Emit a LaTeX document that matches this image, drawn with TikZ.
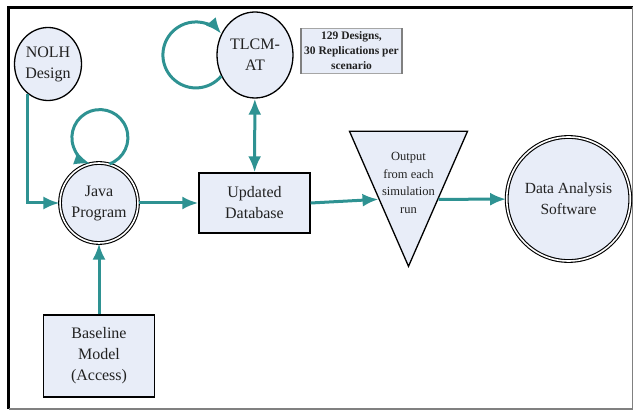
\documentclass[tikz,border=0pt]{standalone}
\usepackage{fontspec}
\setmainfont{Liberation Serif}
\usetikzlibrary{arrows.meta, positioning, shapes.geometric}

\definecolor{flowteal}{RGB}{46,146,146}
\definecolor{boxfill}{RGB}{232,237,248}
\definecolor{inkgray}{RGB}{34,34,34}

\begin{document}
\begin{tikzpicture}[x=1pt, y=1pt,
    every node/.style={text=inkgray, font=\fontsize{16}{21}\selectfont, align=center, inner sep=0pt},
    state/.style={draw, ellipse, fill=boxfill, line width=1.3pt},
    dstate/.style={state, double, double distance=1.6pt, line width=1.1pt},
    store/.style={draw, rectangle, fill=boxfill, line width=1.3pt},
    flow/.style={draw=flowteal, line width=3pt, arrows={-Latex[length=16pt, width=13pt]}}]
    \useasboundingbox (0,0) rectangle (634,410);

    % Frame
    \draw[line width=3pt] (8.5,1) -- (8.5,402.5) -- (633,402.5);
    \draw[gray, line width=1.2pt] (8.5,1) -- (632.5,1) -- (632.5,402.5);

    % Nodes
    \node[state, minimum width=67pt, minimum height=73pt] (nolh) at (48,346) {NOLH\\Design};
    \node[state, minimum width=76pt, minimum height=86pt] (tlcm) at (255,355) {TLCM-\\AT};
    \node[fill=boxfill, minimum width=101pt, minimum height=45pt,
          font=\bfseries\fontsize{11.5}{15}\selectfont] (note) at (351.5,359)
          {129 Designs,\\30 Replications per\\scenario};
    \node[dstate, minimum width=74pt, minimum height=80pt] (java) at (99,207) {Java\\Program};
    \node[store, minimum width=111pt, minimum height=60pt] (db) at (254.5,207) {Updated\\Database};
    \node[draw, fill=boxfill, line width=1.3pt, isosceles triangle, isosceles triangle stretches,
          shape border rotate=270, minimum width=118pt, minimum height=135pt, anchor=apex] (out) at (408.5,142) {};
    \node[font=\fontsize{12.5}{17.5}\selectfont] (outlbl) at (408.5,227)
          {Output\\from each\\simulation\\run};
    \node[dstate, minimum width=111pt, minimum height=124pt, font=\fontsize{15.5}{21}\selectfont] (das) at (568.5,211) {Data Analysis\\Software};
    \node[store, minimum width=111pt, minimum height=82pt] (base) at (99,54) {Baseline\\Model\\(Access)};

    % note edges
    \draw[gray!70, line width=0.4pt] (note.south west) rectangle (note.north east);
    \draw[gray, line width=1.5pt] (note.south west) -- (note.north west);
    \draw[gray, line width=1.5pt] (note.south east) -- (note.north east);

    % Connections
    \draw[flow] (nolh.236) |- (java);
    \draw[flow] (java) -- (db);
    \draw[flow, arrows={Latex[length=16pt, width=13pt]-Latex[length=16pt, width=13pt]}] (db) -- (tlcm);
    \draw[flow] (db.east) -- (out.right side);
    \draw[flow] (out.left side) -- (das);
    \draw[flow] (base) -- (java);
    \draw[flow] (java.75) arc[start angle=-70, end angle=250, radius=28];
    \draw[flow] (tlcm.212) arc[start angle=-40, end angle=-320, radius=33];
\end{tikzpicture}
\end{document}
